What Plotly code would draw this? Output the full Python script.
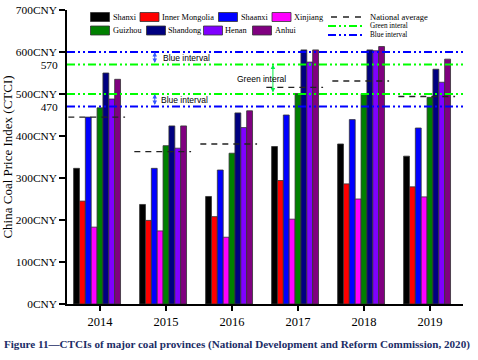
import plotly.graph_objects as go

# ---------------- data ----------------
years = ["2014", "2015", "2016", "2017", "2018", "2019"]
provinces = ["Shanxi", "Inner Mongolia", "Shaanxi", "Xinjiang",
             "Guizhou", "Shandong", "Henan", "Anhui"]
colors = ["#000000", "#ff0000", "#0000ff", "#ff00ff",
          "#008000", "#000080", "#8000ff", "#800080"]

shanxi = [323, 237, 256, 375, 381, 352]
inner_mongolia = [245, 199, 208, 294, 286, 279]
shaanxi = [445, 323, 319, 450, 439, 419]
xinjiang = [183, 174, 159, 202, 250, 255]
guizhou = [467, 377, 359, 501, 501, 492]
shandong = [550, 424, 455, 605, 605, 559]
henan = [488, 371, 420, 576, 603, 528]
anhui = [535, 424, 460, 605, 613, 583]
national_average = [445, 363, 381, 516, 531, 494]

green_interval = [500, 570]
blue_interval = [470, 600]

y_major_ticks = [0, 100, 200, 300, 400, 500, 600, 700]
y_major_labels = ["0CNY", "100CNY", "200CNY", "300CNY", "400CNY", "500CNY", "600CNY", "700CNY"]
y_extra_ticks = [470, 570]
y_extra_labels = ["470", "570"]

series = [shanxi, inner_mongolia, shaanxi, xinjiang, guizhou, shandong, henan, anhui]

# ---------------- figure ----------------
W, H = 478, 360
ML, MR, MT, MB = 67, 15, 10, 56
PW, PH = W - ML - MR, H - MT - MB

def px(X):
    return (X - ML) / PW

def py(Y):
    return (MT + PH - Y) / PH

SERIF = "Liberation Serif"
SANS = "Liberation Sans"

idx = list(range(len(years)))
fig = go.Figure()

for name, vals, col in zip(provinces, series, colors):
    fig.add_trace(go.Bar(x=idx, y=vals, name=name, showlegend=False,
                         marker=dict(color=col, line=dict(color="#333333", width=0.8))))
# empty ninth slot present in the original grouping
fig.add_trace(go.Bar(x=idx, y=[0] * len(years), showlegend=False, hoverinfo="skip",
                     marker=dict(color="rgba(0,0,0,0)", line=dict(width=0))))

# national average segments
nx, ny = [], []
for i, v in zip(idx, national_average):
    nx += [i - 0.48, i + 0.38, None]
    ny += [v, v, None]
fig.add_trace(go.Scatter(x=nx, y=ny, mode="lines", showlegend=False,
                         line=dict(color="#222222", width=1.3, dash="6px,5px")))

# invisible trace for the secondary label axis
fig.add_trace(go.Scatter(x=[None], y=[None], yaxis="y2", showlegend=False, hoverinfo="skip"))

GREEN_DASH = "8px,3px,2px,3px,2px,3px"
BLUE_DASH = "8px,3px,2px,3px,2px,3px"
shapes = []
for v in green_interval:
    shapes.append(dict(type="line", xref="paper", yref="y", x0=0, x1=1, y0=v, y1=v,
                       line=dict(color="#00ff00", width=2, dash=GREEN_DASH), layer="above"))
for v in blue_interval:
    shapes.append(dict(type="line", xref="paper", yref="y", x0=0, x1=1, y0=v, y1=v,
                       line=dict(color="#0000ff", width=2, dash=BLUE_DASH), layer="above"))

annotations = []
# interval arrows
arrow_common = dict(text="", showarrow=True, xref="x", yref="y", axref="x", ayref="y",
                    arrowside="end+start", arrowhead=2, arrowsize=0.9, arrowwidth=1, standoff=0,
                    startstandoff=0, startarrowhead=2, startarrowsize=0.9)
annotations.append(dict(x=0.83, y=blue_interval[1], ax=0.83, ay=green_interval[1],
                        arrowcolor="#3355ff", **arrow_common))
annotations.append(dict(x=0.83, y=green_interval[0], ax=0.83, ay=blue_interval[0],
                        arrowcolor="#3355ff", **arrow_common))
annotations.append(dict(x=2.62, y=green_interval[1], ax=2.62, ay=green_interval[0],
                        arrowcolor="#00ee44", **arrow_common))
annotations.append(dict(x=0.92, y=(blue_interval[1] + green_interval[1]) / 2, xref="x", yref="y",
                        text="Blue interval", showarrow=False, xanchor="left", yanchor="middle",
                        font=dict(family=SANS, size=8.5, color="#000000")))
annotations.append(dict(x=0.89, y=(blue_interval[0] + green_interval[0]) / 2, xref="x", yref="y",
                        text="Blue interval", showarrow=False, xanchor="left", yanchor="middle",
                        font=dict(family=SANS, size=8.5, color="#000000")))
annotations.append(dict(x=2.44, y=sum(green_interval) / 2, xref="x", yref="y",
                        text="Green interal", showarrow=False, xanchor="center", yanchor="middle",
                        font=dict(family=SANS, size=8.5, color="#000000")))

# legend (manual, to reproduce the original layout)
legend_swatch_x = [90.5, 140, 218.5, 272, 90.5, 146.5, 203.5, 252.5]
legend_text_x = [111, 160, 239, 292, 111, 166, 223, 273]
legend_row_y = [17, 30.5]
for k, (name, col) in enumerate(zip(provinces, colors)):
    cy = legend_row_y[k // 4]
    sx = legend_swatch_x[k]
    shapes.append(dict(type="rect", xref="paper", yref="paper",
                       x0=px(sx), x1=px(sx + 19), y0=py(cy + 4.5), y1=py(cy - 4.5),
                       fillcolor=col, line=dict(color="#333333", width=0.8)))
    annotations.append(dict(xref="paper", yref="paper", x=px(legend_text_x[k]), y=py(cy),
                            xanchor="left", yanchor="middle", showarrow=False, text=name,
                            font=dict(family=SERIF, size=8.3, color="#000000")))

line_legend = [("National average", "#222222", "6px,6px", 1.3, 17, 331, 8.5),
               ("Green interal", "#00ff00", GREEN_DASH, 2, 26, 328, 7.2),
               ("Blue interval", "#0000ff", BLUE_DASH, 2, 35, 328, 7.2)]
for name, col, dash, wdt, cy, x0, fs in line_legend:
    shapes.append(dict(type="line", xref="paper", yref="paper", x0=px(x0), x1=px(364),
                       y0=py(cy), y1=py(cy), line=dict(color=col, width=wdt, dash=dash)))
    annotations.append(dict(xref="paper", yref="paper", x=px(368), y=py(cy),
                            xanchor="left", yanchor="middle", showarrow=False, text=name,
                            font=dict(family=SERIF, size=fs, color="#000000")))

# caption
annotations.append(dict(xref="paper", yref="paper", x=px(2), y=py(344), xanchor="left",
                        yanchor="middle", showarrow=False,
                        text="<b>Figure 11\u2014CTCIs of major coal provinces (National Development and Reform Commission, 2020)</b>",
                        font=dict(family=SERIF, size=11.1, color="#1b2d66")))

fig.update_layout(
    template="none",
    width=W, height=H,
    margin=dict(l=ML, r=MR, t=MT, b=MB, pad=0, autoexpand=False),
    paper_bgcolor="#ffffff", plot_bgcolor="#ffffff",
    barmode="group", bargap=0.2, bargroupgap=0,
    font=dict(family=SERIF, color="#000000"),
    shapes=shapes, annotations=annotations,
    showlegend=False,
    xaxis=dict(range=[-0.5, len(years) - 0.5], tickmode="array", tickvals=idx, ticktext=years,
               automargin=False,
               showgrid=False, zeroline=False, showline=True, linecolor="#000000", linewidth=1.5,
               ticks="outside", ticklen=5, tickwidth=1.5, tickcolor="#000000",
               tickfont=dict(family=SERIF, size=12.5, color="#000000")),
    yaxis=dict(range=[0, 700], tickmode="array", tickvals=y_major_ticks, ticktext=y_major_labels,
               automargin=False,
               showgrid=False, zeroline=False, showline=True, linecolor="#000000", linewidth=1.5,
               ticks="outside", ticklen=6, tickwidth=1.5, tickcolor="#000000",
               tickfont=dict(family=SERIF, size=11.4, color="#000000"),
               title=dict(text="China Coal Price Index (CTCI)",
                          font=dict(family=SERIF, size=13, color="#000000"))),
    yaxis2=dict(range=[0, 700], overlaying="y", anchor="x", side="left", automargin=False,
                tickmode="array", tickvals=y_extra_ticks, ticktext=y_extra_labels,
                showgrid=False, zeroline=False, showline=False,
                ticks="outside", ticklen=6, tickwidth=1.5, tickcolor="rgba(0,0,0,0)",
                tickfont=dict(family=SERIF, size=11.4, color="#000000")),
)

fig.write_html("out.html", config={"displayModeBar": False},
               post_script="document.body.style.margin='0px';")
